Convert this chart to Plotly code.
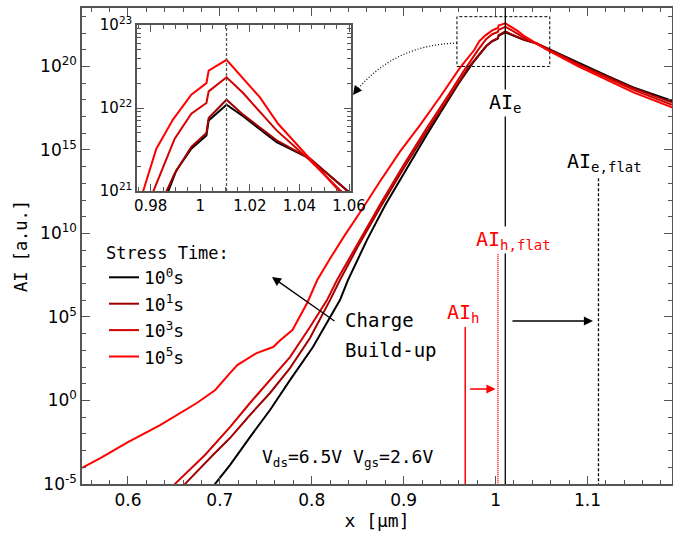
import plotly.graph_objects as go

# ---------------- data (x in µm, AI given as log10 values) ----------------
x_t0 = [0.692, 0.6947, 0.711, 0.7187, 0.7328, 0.7546, 0.7763, 0.8013, 0.8307, 0.8394, 0.86, 0.88,
        0.90, 0.925, 0.9396, 0.96, 0.975, 0.987, 0.9904, 0.9964, 1.0025, 1.0034, 1.0106, 1.0173,
        1.0308, 1.0442, 1.0591, 1.09, 1.121, 1.15, 1.192]
lg_t0 = [-5.3, -5.0, -3.87, -3.26, -2.19, -0.57, 1.22, 3.2, 6.01, 7.21, 9.6, 11.7,
         13.6, 15.9, 17.2, 19.0, 20.2, 20.99, 21.25, 21.51, 21.67, 21.85, 22.04, 21.90,
         21.59, 21.39, 21.01, 20.2, 19.45, 18.75, 17.95]

x_t1 = [0.659, 0.662, 0.6925, 0.711, 0.7328, 0.7546, 0.7763, 0.7981, 0.8199, 0.8307, 0.85, 0.875,
        0.90, 0.925, 0.95, 0.97, 0.9863, 0.9897, 0.9964, 1.0025, 1.0034, 1.0106, 1.0173, 1.0308,
        1.0442, 1.0591, 1.09, 1.121, 1.15, 1.192]
lg_t1 = [-5.3, -5.0, -3.26, -2.25, -0.87, 0.45, 1.94, 3.74, 6.01, 7.21, 9.2, 11.6,
         13.9, 16.1, 18.2, 19.9, 20.99, 21.21, 21.53, 21.70, 21.88, 22.10, 21.92, 21.61,
         21.39, 21.01, 20.15, 19.4, 18.7, 17.85]

x_t3 = [0.648, 0.651, 0.6838, 0.711, 0.7328, 0.7546, 0.7763, 0.7981, 0.8166, 0.8275, 0.85, 0.875,
        0.90, 0.925, 0.95, 0.965, 0.981, 0.9897, 0.9964, 1.0025, 1.0034, 1.0106, 1.0173, 1.0308,
        1.0442, 1.0564, 1.09, 1.121, 1.15, 1.192]
lg_t3 = [-5.3, -5.0, -3.26, -1.59, -0.15, 1.22, 2.6, 4.4, 6.01, 7.21, 9.4, 11.8,
         14.1, 16.3, 18.4, 19.7, 20.99, 21.63, 21.93, 22.06, 22.20, 22.37, 22.18, 21.73,
         21.37, 21.01, 20.1, 19.3, 18.6, 17.7]

x_t5 = [0.55, 0.57, 0.60, 0.635, 0.675, 0.695, 0.711, 0.719, 0.740, 0.758, 0.766, 0.779,
        0.795, 0.806, 0.820, 0.836, 0.853, 0.874, 0.896, 0.918, 0.940, 0.961, 0.977, 0.9823,
        0.989, 0.9964, 1.0025, 1.0034, 1.0106, 1.024, 1.0314, 1.0557, 1.09, 1.121, 1.15, 1.192]
lg_t5 = [-4.04, -3.45, -2.49, -1.47, -0.15, 0.63, 1.64, 2.12, 2.84, 3.20, 3.62, 4.22,
         5.84, 7.21, 8.5, 9.9, 11.3, 13.1, 14.9, 16.5, 18.2, 19.9, 21.0, 21.51,
         21.86, 22.16, 22.30, 22.45, 22.58, 22.13, 21.81, 21.01, 20.0, 19.2, 18.45, 17.55]

series_names = ["10<sup>0</sup>s", "10<sup>1</sup>s", "10<sup>3</sup>s", "10<sup>5</sup>s"]
series_colors = ["#000000", "#a00000", "#d40000", "#ff0000"]

x_ticks = [0.6, 0.7, 0.8, 0.9, 1.0, 1.1]
x_ticktext = ["0.6", "0.7", "0.8", "0.9", "1", "1.1"]
y_tick_exp = [-5, 0, 5, 10, 15, 20]
inset_x_ticks = [0.98, 1.0, 1.02, 1.04, 1.06]
inset_x_ticktext = ["0.98", "1", "1.02", "1.04", "1.06"]
inset_y_tick_exp = [21, 22, 23]

# marker positions (x in µm)
x_AIe = 1.0106
x_AIe_flat = 1.112
x_AIh_flat = 1.0026
x_AIh = 0.967

# ---------------- layout geometry ----------------
W, H = 673, 539
ML, MR, MT, MB = 82, 1, 8, 55
PW, PH = W - ML - MR, H - MT - MB
XMIN, XMAX = 0.55, 1.192
YMIN, YMAX = -5.0, 23.5

def px(xp):
    return (xp - ML) / PW

def py(yp):
    return (H - MB - yp) / PH

def pl(logv):
    return (logv - YMIN) / (YMAX - YMIN)

MONO = "DejaVu Sans Mono"
SANS = "DejaVu Sans"
AXC = "#555555"

fig = go.Figure()

all_x = [x_t0, x_t1, x_t3, x_t5]
all_lg = [lg_t0, lg_t1, lg_t3, lg_t5]

for xs, lgs, name, col in zip(all_x, all_lg, series_names, series_colors):
    ys = [10 ** v for v in lgs]
    fig.add_trace(go.Scatter(x=xs, y=ys, mode="lines", name=name,
                             line=dict(color=col, width=2), xaxis="x", yaxis="y"))
for xs, lgs, name, col in zip(all_x, all_lg, series_names, series_colors):
    ys = [10 ** v for v in lgs]
    fig.add_trace(go.Scatter(x=xs, y=ys, mode="lines", name=name, showlegend=False,
                             line=dict(color=col, width=2), xaxis="x2", yaxis="y2"))

def vline(x, y0, y1, color, dash, width, xa="x", ya="y"):
    fig.add_trace(go.Scatter(x=[x, x], y=[y0, y1], mode="lines", showlegend=False,
                             hoverinfo="skip", line=dict(color=color, dash=dash, width=width),
                             xaxis=xa, yaxis=ya))

vline(x_AIe, 10 ** 23.5, 10 ** -5, "#000000", "solid", 1.3)
vline(x_AIe_flat, 10 ** 13.3, 10 ** -5, "#000000", "3px,2px", 1.3)
vline(x_AIh_flat, 10 ** 8.9, 10 ** -5, "#ff0000", "1px,1px", 1.5)
vline(x_AIh, 10 ** 4.4, 10 ** -5, "#ff0000", "solid", 1.5)
vline(x_AIe, 1e21, 1e23, "#555555", "3px,2px", 1.3, "x2", "y2")

fig.add_trace(go.Scatter(x=[0.958, 1.059, 1.059, 0.958, 0.958],
                         y=[1e20, 1e20, 10 ** 22.98, 10 ** 22.98, 1e20],
                         mode="lines", showlegend=False, hoverinfo="skip",
                         line=dict(color="#000000", dash="3px,2px", width=1)))

fig.add_shape(type="path", xref="paper", yref="paper",
              path=f"M {px(457)},{py(43)} Q {px(395)},{py(45)} {px(358)},{py(89)}",
              line=dict(color="#000000", dash="1px,2px", width=1.2))

ann = []
def text(x, y, s, color="#000000", size=20, bg=None, xanchor="center", xref="x"):
    d = dict(x=x, y=y, xref=xref, yref="paper", text=s, showarrow=False,
             font=dict(family=MONO, size=size, color=color), xanchor=xanchor, yanchor="middle")
    if bg:
        d["bgcolor"] = bg
        d["borderpad"] = 0
    ann.append(d)

def arrow(x, y, ax, ay, color="#000000", xref="x"):
    ann.append(dict(x=x, y=y, xref=xref, yref="paper", ax=ax, ay=ay, text="",
                    showarrow=True, arrowhead=2, arrowsize=1.4, arrowwidth=1.3,
                    arrowcolor=color))

text(x_AIe, pl(17.81), "AI<sub>e</sub>", bg="#ffffff")
text(1.119, pl(14.28), "AI<sub>e,flat</sub>")
text(1.019, pl(9.61), "AI<sub>h,flat</sub>", color="#ff0000", bg="#ffffff")
text(0.9646, pl(5.24), "AI<sub>h</sub>", color="#ff0000")
text(0.834, py(320), "Charge", size=19, xanchor="left")
text(0.834, py(350), "Build-up", size=19, xanchor="left")
text(0.8384, py(458), "V<sub>ds</sub>=6.5V V<sub>gs</sub>=2.6V", size=18)

arrow(1.0, py(389), -27, 0, color="#ff0000")
arrow(1.106, py(321), -82, 0)
arrow(0.7567, py(277), 64, 45)
arrow(px(353), py(95), 6, -8, xref="paper")

fig.update_layout(
    width=W, height=H, autosize=False,
    margin=dict(l=ML, r=MR, t=MT, b=MB, pad=0, autoexpand=False),
    paper_bgcolor="#ffffff", plot_bgcolor="#ffffff",
    font=dict(family=SANS, size=17, color="#000000"),
    annotations=ann,
    showlegend=True,
    legend=dict(x=px(104), y=py(237), xanchor="left", yanchor="top",
                bgcolor="rgba(0,0,0,0)", borderwidth=0, itemwidth=30,
                font=dict(family=MONO, size=18, color="#000000"),
                title=dict(text="Stress Time:", font=dict(family=MONO, size=17)),
                tracegroupgap=0),
    xaxis=dict(range=[XMIN, XMAX], tickmode="array", tickvals=x_ticks, ticktext=x_ticktext,
               ticks="inside", ticklen=8, tickwidth=1.2, tickcolor=AXC,
               showline=True, linecolor=AXC, linewidth=1.5, mirror="ticks",
               showgrid=False, zeroline=False, automargin=False,
               minor=dict(dtick=0.02, tick0=0, ticks="inside", ticklen=4, tickcolor=AXC),
               tickfont=dict(family=SANS, size=17),
               title=dict(text="x [µm]", font=dict(family=MONO, size=18), standoff=2)),
    yaxis=dict(type="log", range=[YMIN, YMAX], tickmode="array",
               tickvals=[10.0 ** e for e in y_tick_exp],
               ticktext=[f"10<sup>{e}</sup>" for e in y_tick_exp],
               ticks="inside", ticklen=8, tickwidth=1.2, tickcolor=AXC,
               showline=True, linecolor=AXC, linewidth=1.5, mirror="ticks",
               showgrid=False, zeroline=False, automargin=False,
               minor=dict(tickvals=[10.0 ** k for k in range(-5, 24)], ticks="inside",
                          ticklen=4, tickcolor=AXC),
               tickfont=dict(family=SANS, size=17),
               title=dict(text="AI [a.u.]", font=dict(family=MONO, size=17), standoff=8)),
    xaxis2=dict(domain=[px(137), px(351)], anchor="y2", range=[0.9745, 1.0608],
                tickmode="array", tickvals=inset_x_ticks, ticktext=inset_x_ticktext,
                ticks="inside", ticklen=7, tickwidth=1.2, tickcolor=AXC,
                showline=True, linecolor=AXC, linewidth=1.5, mirror="ticks",
                showgrid=False, zeroline=False, automargin=False,
                minor=dict(dtick=0.005, tick0=0, ticks="inside", ticklen=4, tickcolor=AXC),
                tickfont=dict(family=SANS, size=15)),
    yaxis2=dict(domain=[py(191), py(25)], anchor="x2", type="log", range=[21, 23],
                tickmode="array", tickvals=[10.0 ** e for e in inset_y_tick_exp],
                ticktext=[f"10<sup>{e}</sup>" for e in inset_y_tick_exp],
                ticks="inside", ticklen=7, tickwidth=1.2, tickcolor=AXC,
                showline=True, linecolor=AXC, linewidth=1.5, mirror="ticks",
                showgrid=False, zeroline=False, automargin=False,
                minor=dict(tickvals=[k * 10.0 ** e for e in (21, 22) for k in range(2, 10)],
                           ticks="inside", ticklen=4, tickcolor=AXC),
                tickfont=dict(family=SANS, size=15)),
)

fig.write_html("out.html", config={"responsive": False})
